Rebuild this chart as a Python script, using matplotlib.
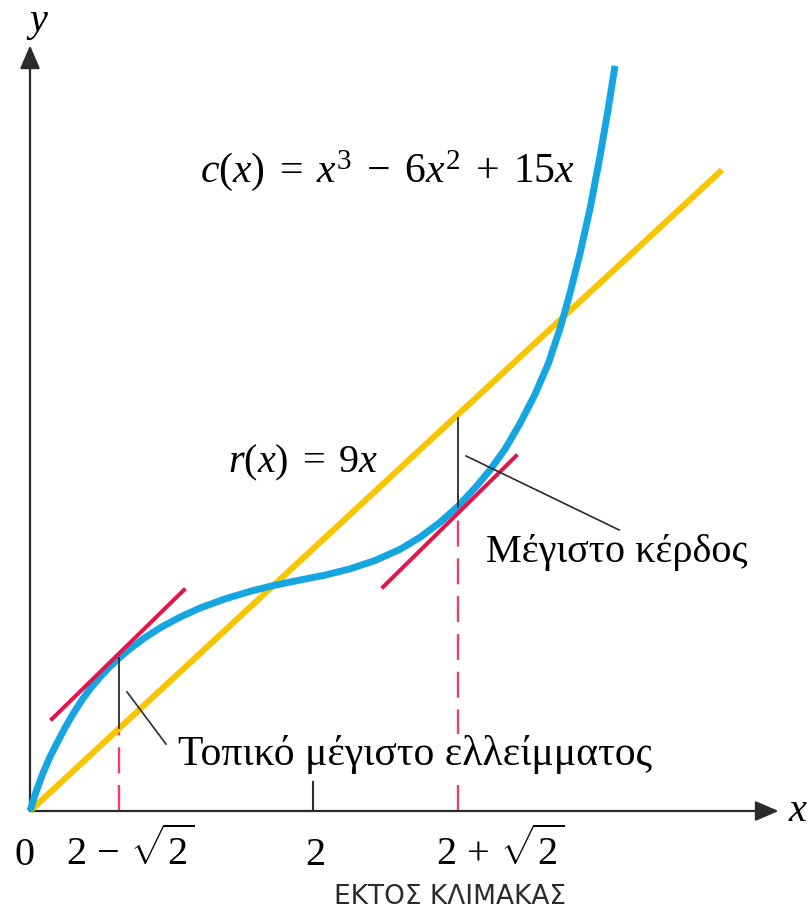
import matplotlib.pyplot as plt

plt.rcParams['font.family'] = ['Liberation Serif', 'DejaVu Serif']
plt.rcParams['mathtext.fontset'] = 'custom'
plt.rcParams['mathtext.rm'] = 'Liberation Serif'
plt.rcParams['mathtext.it'] = 'Liberation Serif:italic'

# cost curve c(x), sketched shape (the figure is not to scale)
cost_x = [0.000, 0.042, 0.092, 0.141, 0.191, 0.247, 0.304, 0.367, 0.424,
          0.495, 0.565, 0.629, 0.707, 0.813, 0.919, 1.060, 1.201, 1.378,
          1.555, 1.731, 1.908, 2.085, 2.261, 2.438, 2.615, 2.756, 2.898,
          3.025, 3.145, 3.251, 3.357, 3.463, 3.569, 3.661, 3.746, 3.816,
          3.887, 3.958, 4.028, 4.085, 4.134]
cost_y = [0.000, 0.134, 0.269, 0.382, 0.481, 0.587, 0.686, 0.784, 0.862,
          0.947, 1.021, 1.081, 1.147, 1.226, 1.294, 1.370, 1.434, 1.499,
          1.552, 1.596, 1.632, 1.667, 1.711, 1.770, 1.849, 1.934, 2.040,
          2.154, 2.283, 2.410, 2.558, 2.739, 2.945, 3.157, 3.411, 3.659,
          3.941, 4.259, 4.627, 4.955, 5.266]

# revenue r(x) = 9x
rev_x = [0.0, 4.89]
rev_y = [0.0, 4.53]

# tangents to c(x) parallel to r(x)
tan_left_x = [0.155, 1.088]
tan_left_y = [0.650, 1.562]
tan_right_x = [2.495, 3.435]
tan_right_y = [1.583, 2.509]

# x = 2 - sqrt(2), 2, 2 + sqrt(2) on the sketch
x_low, x_mid, x_high = 0.629, 2.0, 3.025
gap_low = [0.59, 1.08]    # r(x) .. c(x) at x_low
gap_high = [2.15, 2.78]   # c(x) .. r(x) at x_high

tick_labels = ['0', r'$2\,-\,\sqrt{2}$', '2', r'$2\,+\,\sqrt{2}$']
tick_label_x = [-0.042, 0.707, 2.014, 3.322]

blue = '#15a6e1'
gold = '#f8c500'
red = '#e2164a'
pink = '#ec3f6a'
ink = '#2b2b2b'

fig = plt.figure(figsize=(8.1, 9.17), dpi=100)
ax = fig.add_axes([0, 0, 1, 1])
ax.set_xlim(-0.212, 5.512)
ax.set_ylim(-0.749, 5.731)
ax.axis('off')

# axes with arrow heads
arrow = dict(arrowstyle='-|>,head_length=0.65,head_width=0.28',
             color=ink, lw=1.6, mutation_scale=22, shrinkA=0, shrinkB=0)
ax.annotate('', xy=(5.29, 0), xytext=(0, 0), arrowprops=arrow)
ax.annotate('', xy=(0, 5.41), xytext=(0, 0), arrowprops=arrow)
ax.text(5.36, 0.0, 'x', fontsize=29, style='italic', va='center', ha='left')
ax.text(0.057, 5.58, 'y', fontsize=29, style='italic', va='center',
        ha='center')

# dashed guides and the tick at x = 2
ax.plot([x_low, x_low], [0, gap_low[0]], color=pink, lw=1.7,
        dashes=(11, 5), zorder=2)
ax.plot([x_high, x_high], [0, gap_high[0]], color=pink, lw=1.7,
        dashes=(11, 5), zorder=2)
ax.plot([x_mid, x_mid], [0, 0.205], color=ink, lw=1.5, zorder=2)

ax.plot(rev_x, rev_y, color=gold, lw=4.4, solid_capstyle='butt', zorder=3)
ax.plot(cost_x, cost_y, color=blue, lw=5.0, solid_capstyle='butt',
        solid_joinstyle='round', zorder=4)
ax.plot(tan_left_x, tan_left_y, color=red, lw=2.9, zorder=5)
ax.plot(tan_right_x, tan_right_y, color=red, lw=2.9, zorder=5)

# vertical gaps between revenue and cost
ax.plot([x_low, x_low], gap_low, color=ink, lw=1.3, zorder=6)
ax.plot([x_high, x_high], gap_high, color=ink, lw=1.3, zorder=6)

# leader lines to the labels
ax.plot([0.686, 0.961], [0.841, 0.473], color=ink, lw=1.2, zorder=6)
ax.plot([3.081, 4.163], [2.509, 1.986], color=ink, lw=1.2, zorder=6)

ax.text(1.201, 4.445, r'$c(x)\;=\;x^3\;-\;6x^2\;+\;15x$', fontsize=30,
        ha='left', va='baseline')
ax.text(1.399, 2.396, r'$r(x)\;=\;9x$', fontsize=29, ha='left',
        va='baseline')
ax.text(3.223, 1.760, 'Μέγιστο κέρδος', fontsize=29, ha='left',
        va='baseline')
# white box so the dashed guide breaks around the label
ax.text(1.046, 0.325, 'Τοπικό μέγιστο ελλείμματος', fontsize=30,
        ha='left', va='baseline', zorder=7,
        bbox=dict(facecolor='white', edgecolor='none', pad=1))

for lx, lab in zip(tick_label_x, tick_labels):
    ax.text(lx, -0.382, lab, fontsize=29, ha='center', va='baseline')

ax.text(2.968, -0.608, 'ΕΚΤΟΣ ΚΛΙΜΑΚΑΣ', fontsize=19, ha='center',
        va='center', family=['Liberation Sans Narrow', 'DejaVu Sans'],
        color=ink)

fig.savefig('out.png', dpi=100)
